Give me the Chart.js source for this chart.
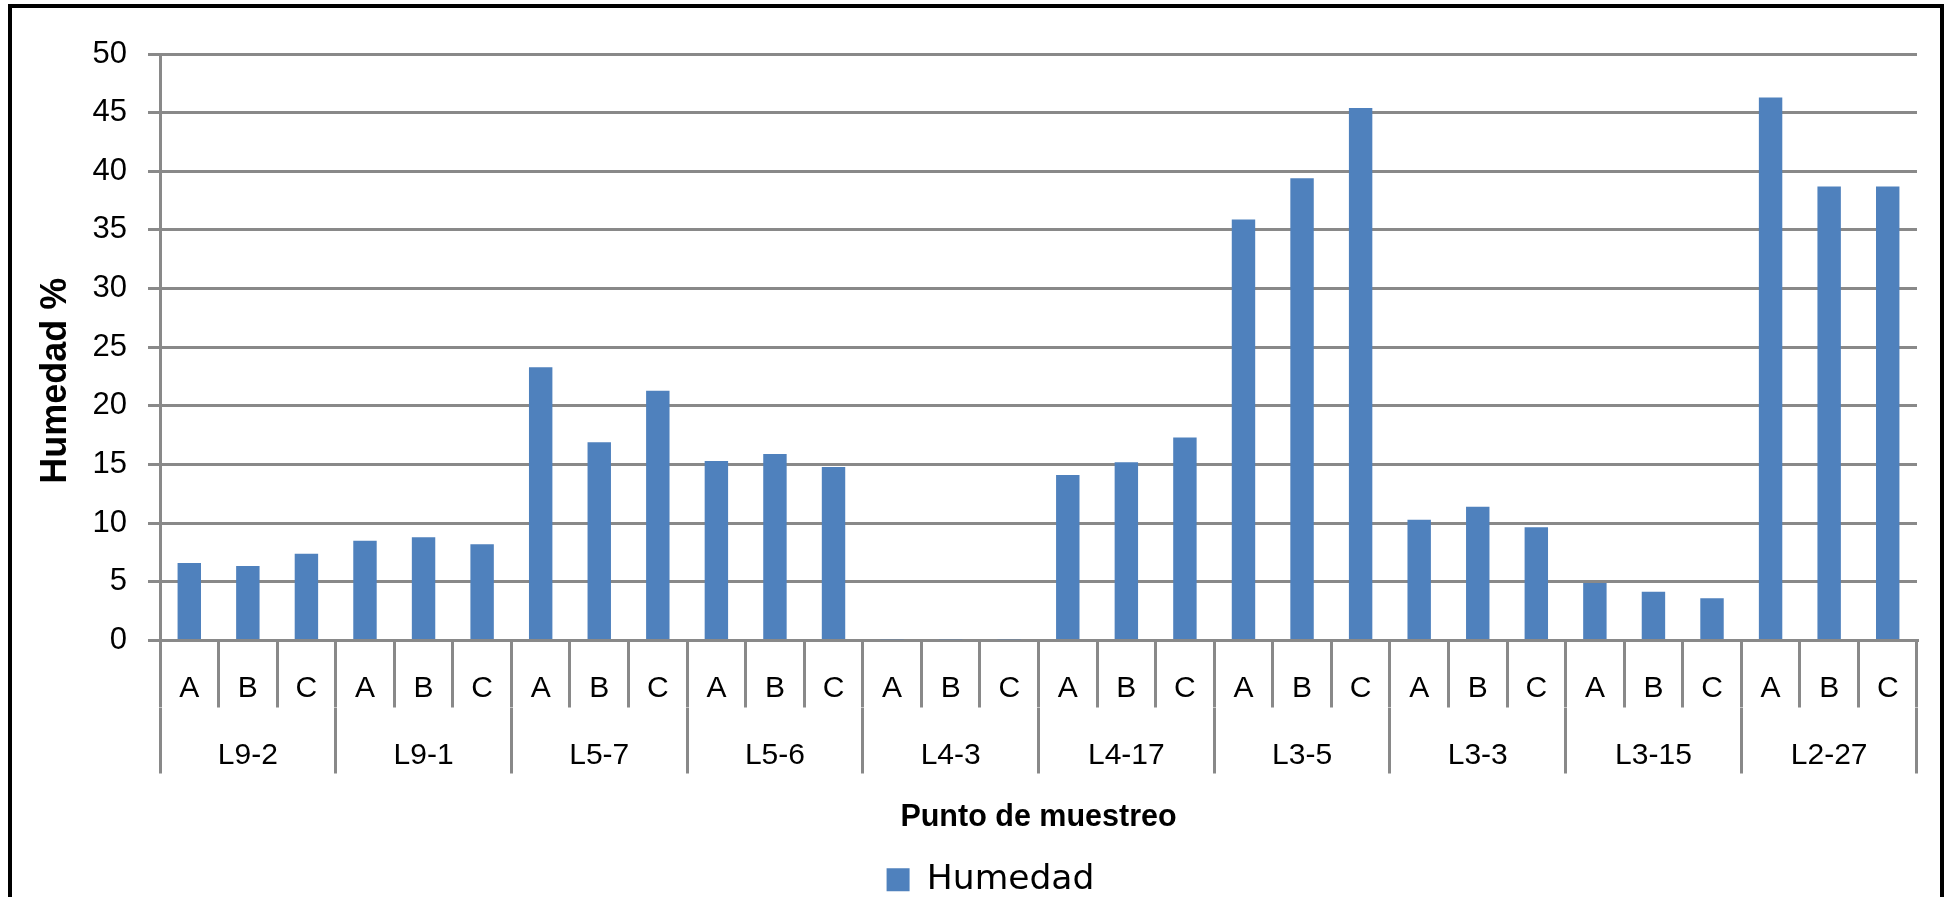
<!DOCTYPE html>
<html>
<head>
<meta charset="utf-8">
<script src="https://cdn.jsdelivr.net/npm/chart.js@4.4.1/dist/chart.umd.min.js"></script>
<style>
  body { margin: 0; background: #fff; overflow: hidden; }
  #page { position: relative; width: 1950px; height: 897px; overflow: hidden; }
  #wrap { position: absolute; left: 0; top: 0; width: 1950px; height: 907px; }
  #frame {
    position: absolute; left: 8px; top: 4px; width: 1936px; height: 1000px;
    border: 4px solid #000; box-sizing: border-box; pointer-events: none;
  }
</style>
</head>
<body>
<div id="page">
  <div id="wrap">
    <canvas id="humChart"></canvas>
  </div>
  <div id="frame"></div>
</div>
<script>
// sampling points (groups) and sub points A/B/C
const groups = ['L9-2', 'L9-1', 'L5-7', 'L5-6', 'L4-3', 'L4-17', 'L3-5', 'L3-3', 'L3-15', 'L2-27']
const subPoints = ['A', 'B', 'C']

// Humedad %, 3 values per group (A, B, C)
const humL9_2 = [6.6, 6.35, 7.4]
const humL9_1 = [8.5, 8.8, 8.2]
const humL5_7 = [23.3, 16.9, 21.3]
const humL5_6 = [15.3, 15.9, 14.8]
const humL4_3 = [0.1, 0.1, 0.1]
const humL4_17 = [14.1, 15.2, 17.3]
const humL3_5 = [35.9, 39.4, 45.4]
const humL3_3 = [10.3, 11.4, 9.65]
const humL3_15 = [4.9, 4.15, 3.6]
const humL2_27 = [46.3, 38.7, 38.7]

const yTicks = [0, 5, 10, 15, 20, 25, 30, 35, 40, 45, 50]

const humedad_array = [].concat(humL9_2, humL9_1, humL5_7, humL5_6, humL4_3,
  humL4_17, humL3_5, humL3_3, humL3_15, humL2_27)

const sub_labels_array = []
groups.forEach(g => {
  subPoints.forEach(s => sub_labels_array.push(s))
});

const gridGray = '#898989'

// y title drawn by hand so it sits centred like the Excel one
const yTitlePlugin = {
  id: 'yTitle',
  afterDraw(chart) {
    const ctx = chart.ctx
    const yMid = (chart.chartArea.top + chart.scales.x.bottom) / 2
    ctx.save()
    ctx.translate(56, yMid)
    ctx.rotate(-Math.PI / 2)
    ctx.font = 'bold 36px "Liberation Sans", Arial, sans-serif'
    ctx.fillStyle = '#000'
    ctx.textAlign = 'center'
    ctx.textBaseline = 'middle'
    ctx.fillText('Humedad %', 0, 0)
    ctx.restore()
  }
}

const ctx = document.getElementById('humChart').getContext('2d');

new Chart(ctx, {type: 'bar',
  data: {labels: sub_labels_array,
    datasets: [
      {
        label: 'Humedad',
        data: humedad_array,
        backgroundColor: '#4F81BD',
        borderWidth: 0,
        categoryPercentage: 1.0,
        barPercentage: 0.4,
        xAxisID: 'x'
      }]
  },
  options: {
    responsive: true,
    maintainAspectRatio: false,
    animation: false,
    layout: {
      padding: {left: 64, right: 33, top: 54, bottom: 0}
    },
    plugins: {
      legend: {
        position: 'bottom',
        labels: {
          font: {family: '"DejaVu Sans", sans-serif', size: 34.5},
          color: '#000',
          boxWidth: 23,
          boxHeight: 23,
          padding: 11
        }
      },
      tooltip: {enabled: false}
    },
    scales: {
      x: {
        type: 'category',
        position: 'bottom',
        weight: 0,
        offset: true,
        grid: {
          offset: true,
          drawOnChartArea: false,
          tickLength: 67,
          color: gridGray,
          lineWidth: 3
        },
        border: {display: true, color: gridGray, width: 3},
        ticks: {
          padding: -37,
          maxRotation: 0,
          autoSkip: false,
          color: '#000',
          font: {family: '"Liberation Sans", Arial, sans-serif', size: 30}
        },
        afterFit(scale) { scale.height = 67 }
      },
      x2: {
        type: 'category',
        position: 'bottom',
        weight: 1,
        labels: groups,
        offset: true,
        grid: {
          offset: true,
          drawOnChartArea: false,
          tickLength: 66,
          color: gridGray,
          lineWidth: 3
        },
        border: {display: false},
        ticks: {
          padding: -36,
          maxRotation: 0,
          autoSkip: false,
          color: '#000',
          font: {family: '"Liberation Sans", Arial, sans-serif', size: 30}
        },
        title: {
          display: true,
          text: 'Punto de muestreo',
          color: '#000',
          font: {family: '"Liberation Sans", Arial, sans-serif', size: 30.5, weight: 'bold'},
          padding: {top: 4, bottom: 16}
        },
        afterFit(scale) { scale.height = 144 }
      },
      y: {
        min: 0,
        max: 50,
        afterBuildTicks(scale) { scale.ticks = yTicks.map(v => ({value: v})) },
        grid: {
          color: gridGray,
          lineWidth: 3,
          tickLength: 12
        },
        border: {display: true, color: gridGray, width: 3},
        ticks: {
          padding: 21,
          color: '#000',
          font: {family: '"Liberation Sans", Arial, sans-serif', size: 31}
        },
        afterFit(scale) { scale.width = 96 }
      }
    }
  },
  plugins: [yTitlePlugin]
});
</script>
</body>
</html>
